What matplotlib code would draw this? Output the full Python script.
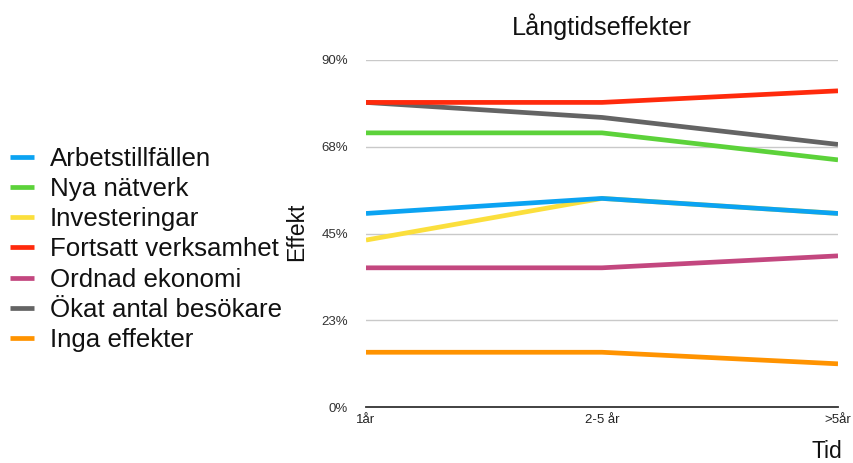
import matplotlib
matplotlib.use("Agg")
import matplotlib.pyplot as plt
import numpy as np

plt.rcParams['font.family'] = ['Liberation Sans', 'DejaVu Sans']

# Time periods on the x axis
periods = ["1år", "2-5 år", ">5år"]

# Share of respondents per effect (%)
arbetstillfallen = [50.2, 54.1, 50.2]
nya_natverk = [71.1, 71.1, 64.1]
investeringar = [43.3, 54.1, 50.2]
fortsatt_verksamhet = [79.0, 79.0, 82.0]
ordnad_ekonomi = [36.1, 36.1, 39.2]
okat_antal_besokare = [79.0, 75.1, 68.1]
inga_effekter = [14.2, 14.2, 11.2]

series_names = ["Arbetstillfällen", "Nya nätverk", "Investeringar",
                "Fortsatt verksamhet", "Ordnad ekonomi",
                "Ökat antal besökare", "Inga effekter"]
series_values = [arbetstillfallen, nya_natverk, investeringar,
                 fortsatt_verksamhet, ordnad_ekonomi,
                 okat_antal_besokare, inga_effekter]
series_colors = ["#0ba3f2", "#5cd23a", "#fbdf3c", "#ff2a0c",
                 "#c3477f", "#646464", "#ff9300"]

y_ticks = [0, 22.5, 45, 67.5, 90]
y_tick_labels = ["0%", "23%", "45%", "68%", "90%"]

W, H = 854, 463
fig = plt.figure(figsize=(W / 100, H / 100), dpi=100)
ax = fig.add_axes([366 / W, 1 - 407 / H, (838 - 366) / W, (407 - 60) / H])

x = np.arange(len(periods))
handles = []
n = len(series_names)
for i, (name, vals, col) in enumerate(zip(series_names, series_values, series_colors)):
    ln, = ax.plot(x, vals, color=col, lw=3.4, solid_capstyle='butt',
                  solid_joinstyle='round', label=name, zorder=10 + n - i)
    handles.append(ln)

ax.set_xlim(0, len(periods) - 1)
ax.set_ylim(0, 90)
ax.set_yticks(y_ticks)
ax.set_yticklabels(y_tick_labels)
ax.set_xticks(x)
ax.set_xticklabels(periods)
ax.tick_params(axis='y', length=0, pad=13, labelsize=9.5, labelcolor='#333333')
ax.tick_params(axis='x', length=0, pad=5, labelsize=9.5, labelcolor='#222222')

for yt in y_ticks[1:]:
    ax.axhline(yt, color='#c9c9c9', lw=1.0, zorder=1)
ax.axhline(0, color='#333333', lw=1.3, zorder=2, clip_on=False)
for s in ax.spines.values():
    s.set_visible(False)
ax.patch.set_alpha(0)

fig.text(602 / W, 1 - 35 / H, "Långtidseffekter", ha='center', va='baseline',
         fontsize=18.2, color='#111111')
fig.text(297 / W, 1 - 232 / H, "Effekt", rotation=90, ha='center', va='center',
         fontsize=16.5, color='#111111')
fig.text(842 / W, 5.5 / H, "Tid", ha='right', va='baseline',
         fontsize=16.5, color='#111111')

leg = fig.legend(handles=handles, loc='upper left',
                 bbox_to_anchor=(0 / W, 1 - 136.5 / H), frameon=False,
                 fontsize=18.6, handlelength=0.93, handletextpad=0.6,
                 labelspacing=0.24, borderaxespad=0, borderpad=0.4)
for t in leg.get_texts():
    t.set_color('#111111')

fig.savefig("out.png", dpi=100)
